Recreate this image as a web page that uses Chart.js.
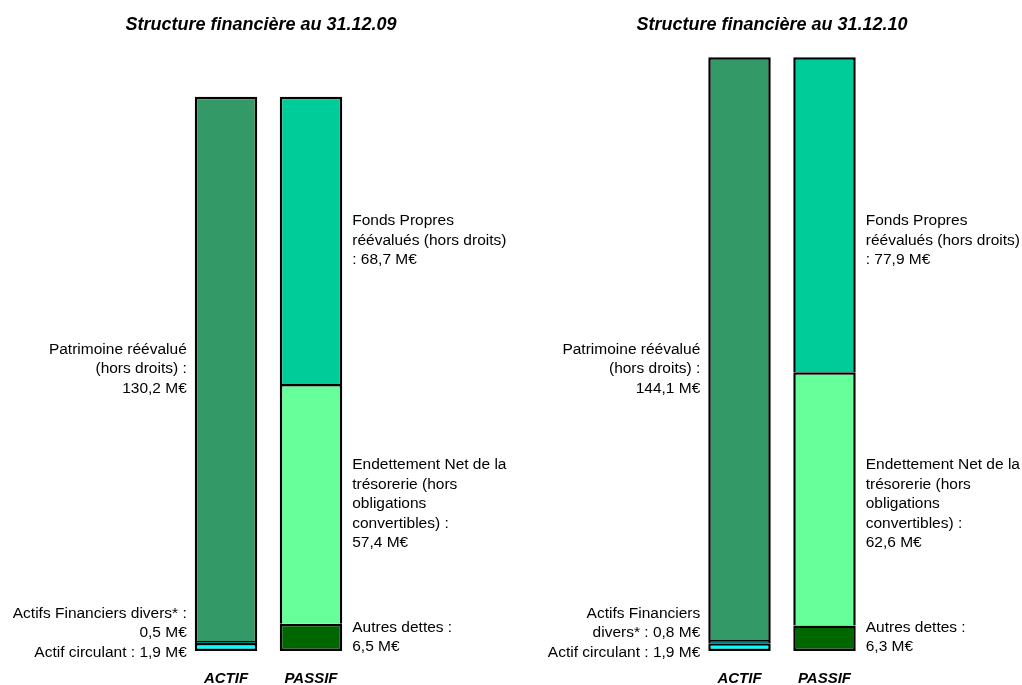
<!DOCTYPE html>
<html lang="fr">
<head>
<meta charset="utf-8">
<title>Structure financière</title>
<script src="https://cdn.jsdelivr.net/npm/chart.js@4/dist/chart.umd.min.js"></script>
<style>
  html, body { margin: 0; padding: 0; background: #ffffff; }
  body { width: 1022px; height: 685px; position: relative; overflow: hidden; }
  canvas { position: absolute; top: 0; }
  #c2009 { left: 0; }
  #c2010 { left: 522px; }
</style>
</head>
<body>
<canvas id="c2009" width="522" height="685"></canvas>
<canvas id="c2010" width="500" height="685"></canvas>
<script>
// Bars: left column = assets, right column = liabilities
const categories = ['ACTIF', 'PASSIF'];
const chartTitles = ['Structure financière au 31.12.09', 'Structure financière au 31.12.10'];

// Segment order, bottom to top (assets first, then liabilities)
const segmentNames = [
  'Actif circulant',
  'Actifs Financiers divers*',
  'Patrimoine réévalué (hors droits)',
  'Autres dettes',
  'Endettement Net de la trésorerie (hors obligations convertibles)',
  'Fonds Propres réévalués (hors droits)'
];
const segmentSide = [0, 0, 0, 1, 1, 1];

// Values in M€
const actif2009 = [1.9, 0.5, 130.2];
const passif2009 = [6.5, 57.4, 68.7];
const actif2010 = [1.9, 0.8, 144.1];
const passif2010 = [6.3, 62.6, 77.9];

// Label text, line by line ({v} is replaced with the segment value)
const labelLines2009 = [
  ['Actif circulant : {v}'],
  ['Actifs Financiers divers* :', '{v}'],
  ['Patrimoine réévalué', '(hors droits) :', '{v}'],
  ['Autres dettes :', '{v}'],
  ['Endettement Net de la', 'trésorerie (hors', 'obligations', 'convertibles) :', '{v}'],
  ['Fonds Propres', 'réévalués (hors droits)', ': {v}']
];
const labelLines2010 = [
  ['Actif circulant : {v}'],
  ['Actifs Financiers', 'divers* : {v}'],
  ['Patrimoine réévalué', '(hors droits) :', '{v}'],
  ['Autres dettes :', '{v}'],
  ['Endettement Net de la', 'trésorerie (hors', 'obligations', 'convertibles) :', '{v}'],
  ['Fonds Propres', 'réévalués (hors droits)', ': {v}']
];

const segmentColors = ['#00FFFF', '#008080', '#339966', '#006600', '#66FF99', '#00CC99'];

const FONT = "'Liberation Sans', Arial, Helvetica, sans-serif";
const LINE_H = 19.5;

function fmt(v) {
  return v.toFixed(1).replace('.', ',') + ' M€';
}

const charts = [];

// Value labels beside each segment, plus the column names and the title.
// Labels of both panels share the vertical layout of the first panel so
// that they line up across the page.
const sideLabels = {
  id: 'sideLabels',
  afterDatasetsDraw(chart, args, opts) {
    const ctx = chart.ctx;
    const layoutChart = charts[0] || chart;
    ctx.save();
    ctx.fillStyle = '#000000';

    // title
    ctx.font = 'italic bold 18px ' + FONT;
    ctx.textAlign = 'center';
    ctx.textBaseline = 'alphabetic';
    ctx.fillText(opts.title, chart.width / 2, 30);

    [0, 1].forEach(col => {
      const items = [];
      chart.data.datasets.forEach((ds, di) => {
        const v = ds.data[col];
        if (v === null || v === undefined) return;
        const el = chart.getDatasetMeta(di).data[col];
        const ref = layoutChart.getDatasetMeta(di).data[col] || el;
        const lines = ds.labelLines.map(s => s.replace('{v}', fmt(v)));
        items.push({
          lines,
          center: (ref.y + ref.base) / 2,
          h: lines.length * LINE_H,
          x: el.x,
          w: el.width,
          base: el.base
        });
      });
      if (!items.length) return;
      const barBottom = items[0].base;
      // resolve overlaps from the bottom up
      if (items.length > 1 &&
          items[1].center + items[1].h / 2 > items[0].center - items[0].h / 2) {
        items[0].center = barBottom + 11 - items[0].h / 2;
      }
      for (let i = 1; i < items.length; i++) {
        const prevTop = items[i - 1].center - items[i - 1].h / 2;
        items[i].center = Math.min(items[i].center, prevTop - items[i].h / 2);
      }

      ctx.font = '15.5px ' + FONT;
      ctx.textBaseline = 'middle';
      items.forEach(it => {
        let tx;
        if (col === 0) {
          ctx.textAlign = 'right';
          tx = it.x - it.w / 2 - 8;
        } else {
          ctx.textAlign = 'left';
          tx = it.x + it.w / 2 + 10;
        }
        const y0 = it.center - (it.lines.length - 1) * LINE_H / 2;
        it.lines.forEach((ln, k) => ctx.fillText(ln, tx, y0 + k * LINE_H));
      });

      // column name under the bar
      ctx.font = 'italic bold 15px ' + FONT;
      ctx.textAlign = 'center';
      ctx.textBaseline = 'alphabetic';
      ctx.fillText(categories[col], items[0].x, 683);
    });
    ctx.restore();
  }
};

function buildDatasets(actif, passif, labelLines) {
  const values = actif.concat(passif);
  return values.map((v, i) => {
    const side = segmentSide[i];
    const isBottom = (i === 0 || i === 3);
    return {
      label: segmentNames[i],
      data: side === 0 ? [v, null] : [null, v],
      backgroundColor: segmentColors[i],
      borderColor: '#000000',
      borderWidth: 2.5,
      borderSkipped: isBottom ? false : 'start',
      inflateAmount: 0,
      labelLines: labelLines[i]
    };
  });
}

function makeChart(canvasId, title, actif, passif, labelLines, yMax, padLeft, padRight) {
  const c = new Chart(document.getElementById(canvasId), {
    type: 'bar',
    data: {
      labels: categories,
      datasets: buildDatasets(actif, passif, labelLines)
    },
    options: {
      responsive: false,
      animation: false,
      events: [],
      layout: { padding: { left: padLeft, right: padRight, top: 24, bottom: 34 } },
      datasets: { bar: { categoryPercentage: 1, barPercentage: 0.735 } },
      scales: {
        x: { display: false, stacked: true },
        y: { display: false, stacked: true, min: 0, max: yMax }
      },
      plugins: {
        legend: { display: false },
        tooltip: { enabled: false },
        sideLabels: { title }
      }
    },
    plugins: [sideLabels]
  });
  charts.push(c);
  return c;
}

makeChart('c2009', chartTitles[0], actif2009, passif2009, labelLines2009, 150, 183.5, 168.5);
makeChart('c2010', chartTitles[1], actif2010, passif2010, labelLines2010, 155, 175, 155);
</script>
</body>
</html>
